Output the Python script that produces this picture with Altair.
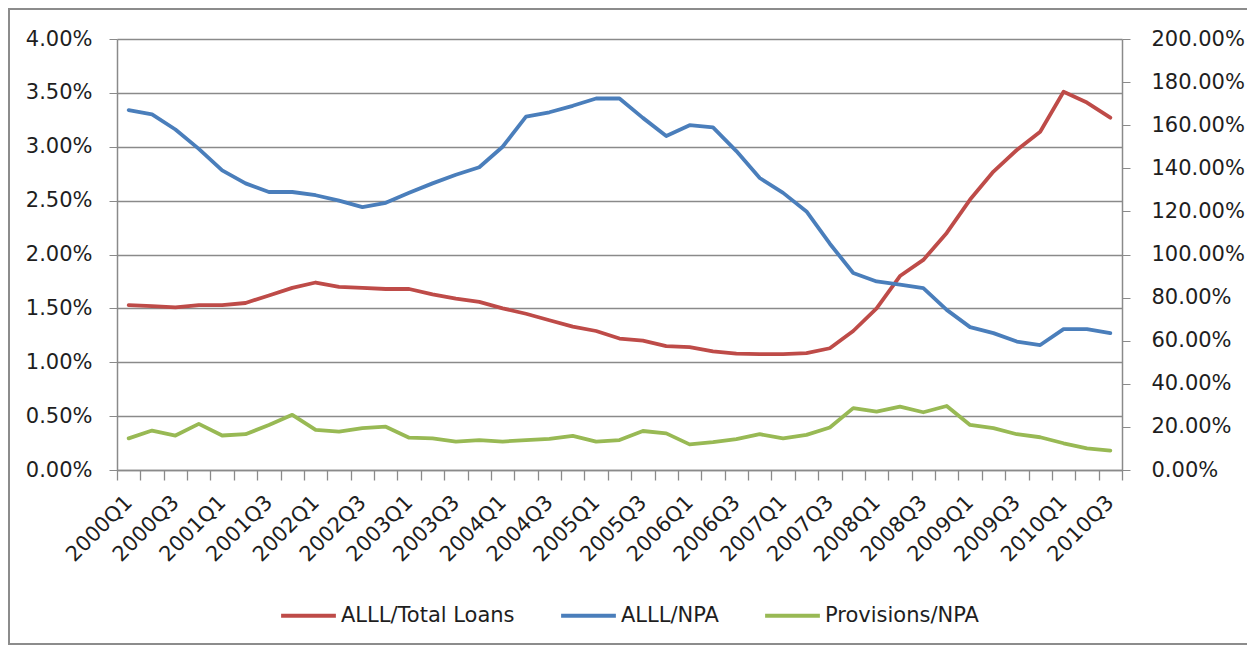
import altair as alt
import pandas as pd

quarters = [f"{y}Q{q}" for y in range(2000, 2011) for q in (1, 2, 3, 4)][:43]

# ALLL / Total Loans (percent, left axis)
alll_total_loans = [1.53, 1.52, 1.51, 1.53, 1.53, 1.55, 1.62, 1.69, 1.74, 1.70,
                    1.69, 1.68, 1.68, 1.63, 1.59, 1.56, 1.50, 1.45, 1.39, 1.33,
                    1.29, 1.22, 1.20, 1.15, 1.14, 1.10, 1.08, 1.075, 1.075, 1.085,
                    1.13, 1.29, 1.50, 1.80, 1.95, 2.20, 2.51, 2.77, 2.97, 3.14,
                    3.51, 3.41, 3.27]

# ALLL / NPA (percent, right axis)
alll_npa = [167, 165, 158, 149, 139, 133, 129, 129, 127.5, 125,
            122, 124, 128.6, 133, 137, 140.5, 150, 164, 166, 169,
            172.4, 172.4, 163.4, 155, 160, 159, 148, 135.5, 128.6, 120,
            105, 91.4, 87.5, 86, 84.4, 74.3, 66.3, 63.5, 59.6, 58,
            65.4, 65.4, 63.5]

# Provisions / NPA (percent, right axis)
provisions_npa = [14.7, 18.3, 16.0, 21.4, 16.0, 16.6, 20.9, 25.6, 18.6, 17.8,
                  19.4, 20.1, 15.0, 14.7, 13.2, 13.9, 13.2, 13.9, 14.4, 15.8,
                  13.2, 13.9, 18.1, 17.0, 11.9, 12.9, 14.3, 16.6, 14.7, 16.3,
                  19.7, 28.7, 27.1, 29.4, 26.8, 29.7, 20.9, 19.4, 16.6, 15.2,
                  12.4, 10.0, 9.0]

series_names = ["ALLL/Total Loans", "ALLL/NPA", "Provisions/NPA"]
series_colors = ["#BE4B48", "#4A7EBB", "#98B954"]

left_ticks = [0, 0.005, 0.01, 0.015, 0.02, 0.025, 0.03, 0.035, 0.04]
right_ticks = [0, 0.2, 0.4, 0.6, 0.8, 1.0, 1.2, 1.4, 1.6, 1.8, 2.0]

left_df = pd.DataFrame({"quarter": quarters, "series": series_names[0],
                        "value": [v / 100 for v in alll_total_loans]})
right_df = pd.concat([
    pd.DataFrame({"quarter": quarters, "series": series_names[1],
                  "value": [v / 100 for v in alll_npa]}),
    pd.DataFrame({"quarter": quarters, "series": series_names[2],
                  "value": [v / 100 for v in provisions_npa]}),
], ignore_index=True)

FONT = "DejaVu Sans"
GRAY = "#8a8a8a"
TEXT = "#1e1e1e"
FS = 21

x_enc = alt.X(
    "quarter:N",
    bandPosition=0.5,
    scale=alt.Scale(type="band", domain=quarters, paddingInner=0, paddingOuter=0),
    axis=alt.Axis(
        title=None, labelAngle=-45, labelAlign="right", labelBaseline="middle",
        labelExpr="test(/Q[13]$/, datum.label) ? datum.label : ''",
        labelOverlap=False, tickBand="extent", tickSize=10, tickColor=GRAY,
        tickWidth=1.3, domainColor=GRAY, domainWidth=1.5, labelPadding=19,
        grid=False,
    ),
)

color_enc = alt.Color(
    "series:N",
    title=None,
    scale=alt.Scale(domain=series_names, range=series_colors),
    legend=alt.Legend(
        orient="none", legendX=162, legendY=547, direction="horizontal",
        symbolType="stroke", symbolSize=3000, symbolStrokeWidth=4,
        labelFont=FONT, labelFontSize=FS, labelColor=TEXT, labelOffset=3,
        labelLimit=400, columnPadding=38, padding=0,
    ),
)

line_props = dict(strokeWidth=3.8, strokeJoin="round", strokeCap="round")

left = alt.Chart(left_df).mark_line(**line_props).encode(
    x=x_enc,
    y=alt.Y("value:Q", scale=alt.Scale(domain=[0, 0.04]),
            axis=alt.Axis(title=None, orient="left", format=".2%", values=left_ticks,
                          grid=True, gridColor=GRAY, gridWidth=1.4, tickSize=8,
                          tickColor=GRAY, domainColor=GRAY, domainWidth=1.5,
                          labelPadding=17)),
    color=color_enc,
)

right = alt.Chart(right_df).mark_line(**line_props).encode(
    x=x_enc,
    y=alt.Y("value:Q", scale=alt.Scale(domain=[0, 2.0]),
            axis=alt.Axis(title=None, orient="right", format=".2%", values=right_ticks,
                          grid=False, tickSize=8, tickColor=GRAY, domainColor=GRAY,
                          domainWidth=1.5, labelPadding=21)),
    color=color_enc,
)

frame = alt.Chart(pd.DataFrame({"f": [0]})).mark_rect(
    filled=False, stroke="#8c8c8c", strokeWidth=2, clip=False
).encode(
    x=alt.value(-108), x2=alt.value(1131), y=alt.value(-30), y2=alt.value(605)
)

chart = alt.layer(frame, left, right).resolve_scale(y="independent").properties(
    width=1005, height=431,
    autosize=alt.AutoSizeParams(type="none"),
    padding={"left": 109, "top": 31, "right": 125, "bottom": 176},
).configure_view(stroke="transparent").configure_axis(
    labelFont=FONT, labelFontSize=FS, labelColor=TEXT,
)

chart.save("out.html", embed_options={"renderer": "svg", "actions": False})
